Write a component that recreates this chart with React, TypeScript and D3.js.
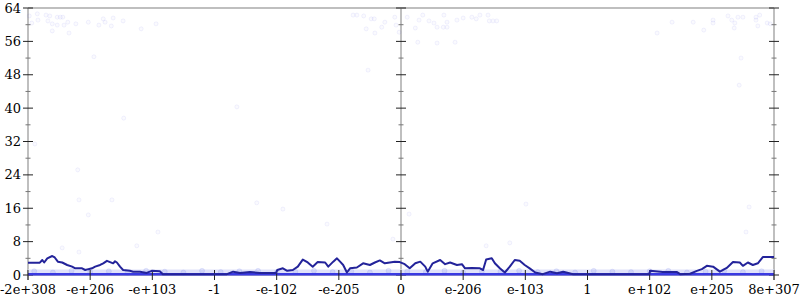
import React from "react";
import * as d3 from "d3";

// x positions are in "tick units": -6 .. 6 (each unit = one labelled tick)
const xTickLabels = ["-2e+308", "-e+206", "-e+103", "-1", "-e-102", "-e-205", "0", "e-206", "e-103", "1", "e+102", "e+205", "8e+307"];
const yTicks = [0, 8, 16, 24, 32, 40, 48, 56, 64];
const yMinorTicks = [4, 12, 20, 28, 36, 44, 52, 60];

// moving-average line
const lineX = [-6.0, -5.81, -5.77, -5.74, -5.69, -5.61, -5.57, -5.52, -5.45, -5.37, -5.29, -5.24, -5.13, -5.08, -5.03, -4.97, -4.92, -4.84, -4.79, -4.73, -4.68, -4.63, -4.6, -4.57, -4.52, -4.47, -4.36, -4.31, -4.2, -4.09, -4.01, -3.88, -3.83, -2.8, -2.7, -2.59, -2.43, -2.27, -2.01, -1.99, -1.9, -1.83, -1.74, -1.66, -1.58, -1.5, -1.42, -1.34, -1.22, -1.17, -1.09, -1.03, -0.98, -0.93, -0.87, -0.82, -0.71, -0.61, -0.5, -0.42, -0.34, -0.26, -0.18, -0.1, -0.02, 0.06, 0.14, 0.23, 0.31, 0.39, 0.43, 0.51, 0.63, 0.71, 0.79, 0.9, 0.98, 1.03, 1.14, 1.27, 1.32, 1.37, 1.46, 1.51, 1.59, 1.67, 1.75, 1.83, 1.91, 1.99, 2.07, 2.16, 2.28, 2.4, 2.51, 2.61, 2.77, 3.99, 4.01, 4.21, 4.44, 4.49, 4.65, 4.76, 4.84, 4.92, 5.02, 5.13, 5.24, 5.34, 5.45, 5.5, 5.58, 5.66, 5.74, 5.82, 6.0];
const lineY = [2.95, 2.95, 3.6, 3.0, 4.0, 4.55, 4.2, 3.2, 3.0, 2.4, 2.0, 1.6, 1.6, 1.2, 1.4, 1.6, 2.0, 2.4, 2.8, 3.4, 3.1, 2.8, 3.3, 3.0, 2.0, 1.2, 1.0, 0.8, 0.8, 0.5, 1.0, 0.9, 0.2, 0.2, 0.8, 0.5, 0.7, 0.5, 0.5, 1.2, 1.6, 1.0, 1.2, 2.0, 3.7, 3.0, 2.0, 3.1, 3.0, 2.0, 3.2, 4.0, 3.2, 2.4, 0.6, 1.6, 1.8, 2.8, 2.4, 3.0, 3.5, 2.8, 3.0, 3.2, 3.1, 2.6, 1.6, 2.8, 3.2, 2.0, 0.8, 2.8, 3.6, 2.6, 3.0, 2.4, 2.6, 1.6, 1.7, 1.6, 1.2, 3.7, 4.0, 2.8, 1.6, 0.6, 2.0, 3.6, 3.4, 2.4, 1.6, 0.6, 0.2, 0.8, 0.4, 0.8, 0.2, 0.2, 1.0, 0.7, 0.7, 0.2, 0.3, 1.0, 1.4, 2.2, 2.0, 0.8, 1.7, 3.1, 3.0, 2.2, 3.0, 2.4, 2.8, 4.3, 4.3];

// sparse scatter samples
const dotX = [-5.98, -5.94, -5.85, -5.84, -5.71, -5.68, -5.65, -5.61, -5.61, -5.53, -5.53, -5.48, -5.44, -5.42, -5.36, -5.34, -5.23, -5.03, -4.94, -4.86, -4.79, -4.76, -4.66, -4.63, -4.47, -4.18, -3.94,
  -0.77, -0.71, -0.6, -0.56, -0.48, -0.43, -0.42, -0.31, -0.26, -0.1, -0.08, -0.03, 0.1, 0.23, 0.27, 0.29, 0.35, 0.45, 0.53, 0.58, 0.58, 0.68, 0.69, 0.74, 0.74, 0.87, 0.9, 1.0, 1.14, 1.21, 1.27, 1.4, 1.42, 1.48, 1.54, -0.53,
  4.12, 4.36, 4.7, 4.87, 5.02, 5.02, 5.26, 5.32, 5.37, 5.36, 5.42, 5.5, 5.71, 5.71, 5.74, 5.77, 5.89, 5.94, 5.47, 5.44,
  -5.89, -4.46, -5.2, -5.18, -4.65, -5.03, -5.45, -5.18, -4.25, -3.91, -2.32, -1.9, -1.19, -0.13, 0.13, 2.01, 1.37, 1.75, 5.6, 5.55, -2.64];
const dotY = [62.1, 60.4, 62.6, 61.1, 62.3, 60.9, 62.1, 60.2, 58.5, 59.9, 61.8, 61.8, 61.8, 59.9, 60.6, 58.0, 60.2, 60.6, 52.3, 59.9, 61.4, 60.6, 59.7, 61.6, 60.9, 59.0, 60.2,
  62.3, 62.3, 62.1, 59.0, 61.4, 61.4, 58.0, 59.4, 60.6, 61.8, 59.9, 58.2, 61.8, 59.2, 55.8, 61.1, 62.3, 60.9, 60.4, 55.6, 59.4, 59.4, 62.3, 59.4, 60.6, 55.8, 61.1, 61.6, 61.8, 61.4, 62.3, 62.3, 60.9, 60.9, 60.9, 49.1,
  58.0, 60.6, 60.6, 58.7, 60.4, 61.1, 62.1, 61.1, 60.4, 59.2, 61.8, 61.8, 61.8, 61.1, 59.7, 62.3, 60.4, 60.2, 52.0, 45.5,
  31.4, 37.6, 25.2, 18.0, 18.0, 14.4, 6.5, 5.5, 7.0, 10.3, 17.3, 15.8, 12.2, 8.6, 14.6, 17.0, 7.0, 7.7, 16.3, 10.3, 40.3];

// dense low band of samples (values near zero)
const bandX = [-6, 6];
const bandTop = [1.3, 1.3];
const bandDotX = [-5.9, -5.6, -5.3, -5.0, -4.7, -4.4, -4.1, -3.8, -3.5, -3.2, -2.9, -2.6, -2.3, -2.0, -1.7, -1.4, -1.1, -0.8, -0.5, -0.2, 0.1, 0.4, 0.7, 1.0, 1.3, 1.6, 1.9, 2.2, 2.5, 2.8, 3.1, 3.4, 3.7, 4.0, 4.3, 4.6, 4.9, 5.2, 5.5, 5.8];
const bandDotY = [0.9, 0.6, 1.0, 0.7, 0.9, 0.5, 1.0, 0.8, 0.6, 1.0, 0.7, 0.9, 1.0, 0.6, 0.8, 1.0, 0.7, 0.9, 0.6, 1.0, 0.8, 0.7, 1.0, 0.6, 0.9, 0.8, 1.0, 0.7, 0.9, 0.6, 1.0, 0.8, 0.7, 0.9, 1.0, 0.6, 0.8, 1.0, 0.7, 0.9];
const zeroRow = [0, 0];

const W = 800, H = 300;
const M = { left: 28, right: 26, top: 8, bottom: 25 };

export default function App() {
  const x = d3.scaleLinear().domain([-6, 6]).range([M.left, W - M.right]);
  const y = d3.scaleLinear().domain([0, 64]).range([H - M.bottom, M.top]);
  const xTicks = xTickLabels.map((_, i) => i - 6);

  const line = d3.line<number>().x((_, i) => x(lineX[i])).y((d) => y(d)).curve(d3.curveLinear);
  const area = d3.area<number>().x((_, i) => x(bandX[i])).y0(y(0)).y1((d) => y(d));
  const zeroLine = d3.line<number>().x((_, i) => x(bandX[i])).y((d) => y(d));

  const font = "'DejaVu Serif', serif";
  const axes = [x(-6), x(0), x(6)];

  return (
    <svg width={W} height={H} style={{ position: "absolute", left: 0, top: 0, background: "#fff" }}>
      {/* frame */}
      <line x1={x(-6)} x2={x(6)} y1={y(64)} y2={y(64)} stroke="#aaa" strokeWidth={1.5} />
      <line x1={x(-6)} x2={x(6)} y1={y(0)} y2={y(0)} stroke="#aaa" strokeWidth={1.5} />
      {axes.map((ax, k) => (
        <g key={k}>
          <line x1={ax} x2={ax} y1={y(64)} y2={y(0) + 5} stroke="#aaa" strokeWidth={1.5} />
          {yTicks.map((t) => (
            <line key={t} x1={ax - 5} x2={ax + 5} y1={y(t)} y2={y(t)} stroke="#222" strokeWidth={1} />
          ))}
          {yMinorTicks.map((t) => (
            <line key={t} x1={ax - 2.5} x2={ax + 2.5} y1={y(t)} y2={y(t)} stroke="#777" strokeWidth={1} />
          ))}
        </g>
      ))}
      {/* scatter */}
      <path d={area(bandTop) || ""} fill="#e0e2fa" />
      {bandDotX.map((bx, i) => (
        <circle key={"b" + i} cx={x(bx)} cy={y(bandDotY[i])} r={2.5} fill="rgba(110,120,235,0.15)" stroke="rgba(110,120,235,0.15)" />
      ))}
      {dotX.map((dx, i) => (
        <circle key={"d" + i} cx={x(dx)} cy={y(dotY[i])} r={2} fill="rgba(90,90,235,0.03)" stroke="rgba(90,90,235,0.08)" strokeWidth={1} />
      ))}
      <path d={zeroLine(zeroRow) || ""} fill="none" stroke="#3a3ae2" strokeWidth={2.5} transform="translate(0,-0.7)" />
      {/* x ticks */}
      {xTicks.map((t) => (
        <line key={t} x1={x(t)} x2={x(t)} y1={y(0) - 5} y2={y(0) + 5} stroke="#222" strokeWidth={1} />
      ))}
      {/* average line */}
      <path d={line(lineY) || ""} fill="none" stroke="#23239a" strokeWidth={2} strokeLinejoin="round" />
      {/* labels */}
      {yTicks.map((t) => (
        <text key={t} x={x(-6) - 7} y={y(t)} dy="0.35em" textAnchor="end" fontFamily={font} fontSize={13} fill="#000">{t}</text>
      ))}
      {xTicks.map((t, i) => (
        <text key={t} x={x(t)} y={294} textAnchor="middle" fontFamily={font} fontSize={13} fill="#000">{xTickLabels[i]}</text>
      ))}
    </svg>
  );
}
